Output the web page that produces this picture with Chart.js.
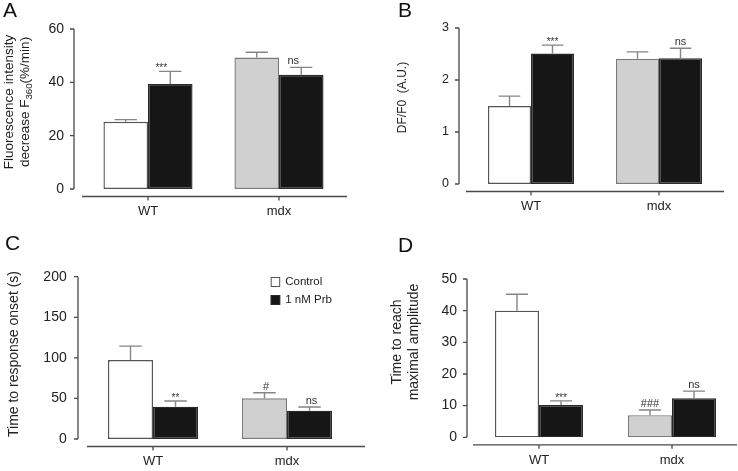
<!DOCTYPE html>
<html>
<head>
<meta charset="utf-8">
<script src="https://cdn.jsdelivr.net/npm/chart.js@4.4.1/dist/chart.umd.min.js"></script>
<style>
  html, body { margin: 0; padding: 0; background: #fff; width: 738px; height: 471px; overflow: hidden; }
  .panel { position: absolute; }
</style>
</head>
<body>
<div class="panel" style="left:0;top:0"><canvas id="chartA" width="369" height="230"></canvas></div>
<div class="panel" style="left:369px;top:0"><canvas id="chartB" width="369" height="230"></canvas></div>
<div class="panel" style="left:0;top:230px"><canvas id="chartC" width="369" height="241"></canvas></div>
<div class="panel" style="left:369px;top:230px"><canvas id="chartD" width="372" height="241"></canvas></div>
<script>
'use strict';

const categories = ['WT', 'mdx'];
const seriesNames = ['Control', '1 nM Prb'];

// A: fluorescence decrease
const fluoControl = [25.2, 49.3];
const fluoControlErr = [0.8, 2.0];
const fluoPrb = [39.4, 42.8];
const fluoPrbErr = [4.7, 2.8];
const fluoTicks = [0, 20, 40, 60];
const fluoMarksControl = ['', ''];
const fluoMarksPrb = ['***', 'ns'];

// B: DF/F0
const ratioControl = [1.5, 2.41];
const ratioControlErr = [0.19, 0.13];
const ratioPrb = [2.51, 2.42];
const ratioPrbErr = [0.16, 0.19];
const ratioTicks = [0, 1, 2, 3];
const ratioMarksControl = ['', ''];
const ratioMarksPrb = ['***', 'ns'];

// C: time to response onset
const onsetControl = [97.3, 50.1];
const onsetControlErr = [17.2, 6.9];
const onsetPrb = [39.8, 34.9];
const onsetPrbErr = [7.0, 4.5];
const onsetTicks = [0, 50, 100, 150, 200];
const onsetMarksControl = ['', '#'];
const onsetMarksPrb = ['**', 'ns'];

// D: time to maximal amplitude
const peakControl = [40.0, 7.0];
const peakControlErr = [5.2, 1.6];
const peakPrb = [10.2, 12.3];
const peakPrbErr = [1.3, 2.3];
const peakTicks = [0, 10, 20, 30, 40, 50];
const peakMarksControl = ['', '###'];
const peakMarksPrb = ['***', 'ns'];

const FONT = "'Liberation Sans', Arial, Helvetica, sans-serif";
const AXIS = '#4a4a4a';
const ERR = '#858585';
const controlFill = ['#ffffff', '#d0d0d0'];
const controlEdge = ['#555555', '#7a7a7a'];
const prbFill = '#161616';
const prbEdge = '#2a2a2a';

// draws axis lines, error bars, significance marks, titles and legend
const decor = {
  id: 'decor',
  afterDatasetsDraw(chart, args, o) {
    const ctx = chart.ctx;
    const y = chart.scales.y;
    ctx.save();
    ctx.strokeStyle = ERR;
    ctx.lineWidth = 1.4;
    chart.data.datasets.forEach((ds, di) => {
      chart.getDatasetMeta(di).data.forEach((bar, i) => {
        const top = y.getPixelForValue(ds.data[i] + ds.err[i]);
        const half = bar.width / 4;
        ctx.beginPath();
        ctx.moveTo(bar.x, bar.y);
        ctx.lineTo(bar.x, top);
        ctx.moveTo(bar.x - half, top);
        ctx.lineTo(bar.x + half, top);
        ctx.stroke();
        const mark = ds.marks[i];
        if (mark) {
          const star = mark.indexOf('*') >= 0;
          ctx.fillStyle = '#333';
          ctx.font = (star ? 10 : 11) + 'px ' + FONT;
          ctx.textAlign = 'center';
          ctx.textBaseline = 'alphabetic';
          const dx = (o.markShift && o.markShift[di] && o.markShift[di][i]) || 0;
          ctx.fillText(mark, bar.x + dx, top - (star ? 0 : 3));
        }
      });
    });
    ctx.restore();
  },
  afterDraw(chart, args, o) {
    const ctx = chart.ctx;
    const area = chart.chartArea;
    const y = chart.scales.y;
    const x = chart.scales.x;
    ctx.save();
    ctx.strokeStyle = AXIS;
    ctx.lineWidth = 1.3;
    // y axis
    const ax = area.left - o.yGap;
    ctx.beginPath();
    ctx.moveTo(ax, area.top);
    ctx.lineTo(ax, area.bottom);
    y.ticks.forEach(t => {
      const py = y.getPixelForValue(t.value);
      ctx.moveTo(ax - 4, py);
      ctx.lineTo(ax, py);
    });
    // x axis
    const ay = area.bottom + 7.5;
    ctx.moveTo(area.left + o.xStart, ay);
    ctx.lineTo(area.right + o.xEnd, ay);
    categories.forEach((c, i) => {
      const px = x.getPixelForValue(i);
      ctx.moveTo(px, ay);
      ctx.lineTo(px, ay + 4);
    });
    ctx.stroke();

    // panel letter
    ctx.fillStyle = '#111';
    ctx.font = '21px ' + FONT;
    ctx.textAlign = 'left';
    ctx.textBaseline = 'alphabetic';
    ctx.fillText(o.letter, o.letterAt[0], o.letterAt[1]);

    // y title (rotated, may hold a subscript)
    ctx.fillStyle = '#222';
    ctx.textBaseline = 'middle';
    o.title.forEach((line, li) => {
      ctx.save();
      ctx.translate(o.titleX[li], o.titleY);
      ctx.rotate(-Math.PI / 2);
      const sizes = line.map(seg => seg[1] ? o.titleSize * 0.72 : o.titleSize);
      let total = 0;
      line.forEach((seg, si) => {
        ctx.font = sizes[si] + 'px ' + FONT;
        total += ctx.measureText(seg[0]).width;
      });
      let cx = -total / 2;
      ctx.textAlign = 'left';
      line.forEach((seg, si) => {
        ctx.font = sizes[si] + 'px ' + FONT;
        ctx.fillText(seg[0], cx, seg[1] ? o.titleSize * 0.3 : 0);
        cx += ctx.measureText(seg[0]).width;
      });
      ctx.restore();
    });

    // legend
    if (o.legend) {
      const L = o.legend;
      ctx.font = '11.5px ' + FONT;
      ctx.textAlign = 'left';
      ctx.textBaseline = 'middle';
      chart.data.datasets.forEach((ds, di) => {
        const by = L.y + di * L.step;
        ctx.fillStyle = di === 0 ? '#ffffff' : prbFill;
        ctx.fillRect(L.x, by - 5, 9.5, 10);
        ctx.strokeStyle = di === 0 ? '#555' : prbEdge;
        ctx.lineWidth = 1;
        ctx.strokeRect(L.x + 0.5, by - 4.5, 8.5, 9);
        ctx.fillStyle = '#222';
        ctx.fillText(seriesNames[di], L.x + 14.5, by);
      });
    }
    ctx.restore();
  }
};

function makePanel(id, p) {
  return new Chart(document.getElementById(id), {
    type: 'bar',
    data: {
      labels: categories,
      datasets: [{
        label: seriesNames[0],
        data: p.control,
        err: p.controlErr,
        marks: p.controlMarks,
        backgroundColor: controlFill,
        borderColor: controlEdge,
        borderWidth: 1.4,
        borderSkipped: false,
        categoryPercentage: p.group,
        barPercentage: 1
      }, {
        label: seriesNames[1],
        data: p.prb,
        err: p.prbErr,
        marks: p.prbMarks,
        backgroundColor: prbFill,
        borderColor: prbEdge,
        borderWidth: 1.4,
        borderSkipped: false,
        categoryPercentage: p.group,
        barPercentage: 1
      }]
    },
    options: {
      responsive: false,
      animation: false,
      events: [],
      layout: { padding: { left: 0, top: p.top, right: p.right, bottom: 0 } },
      plugins: {
        legend: { display: false },
        tooltip: { enabled: false },
        decor: p.decor
      },
      scales: {
        x: {
          grid: { display: false, drawTicks: false },
          border: { display: false },
          ticks: { padding: 15, color: '#222', font: { family: FONT, size: 13 } },
          afterFit(s) { s.height = p.xHeight; }
        },
        y: {
          min: p.ticks[0],
          max: p.ticks[p.ticks.length - 1],
          grid: { display: false, drawTicks: false },
          border: { display: false },
          ticks: {
            stepSize: p.ticks[1] - p.ticks[0],
            padding: p.yPad,
            color: '#222',
            font: { family: FONT, size: p.tickSize }
          },
          afterFit(s) { s.width = p.yWidth; }
        }
      }
    },
    plugins: [decor]
  });
}

makePanel('chartA', {
  control: fluoControl, controlErr: fluoControlErr, controlMarks: fluoMarksControl,
  prb: fluoPrb, prbErr: fluoPrbErr, prbMarks: fluoMarksPrb, ticks: fluoTicks,
  group: 0.68, top: 29, right: 24.5, xHeight: 41, yWidth: 82.5, yPad: 18.5, tickSize: 14,
  decor: {
    yGap: 8.5, xStart: -0.5, xEnd: 2.5, letter: 'A', letterAt: [3, 17],
    title: [[['Fluorescence intensity']], [['decrease F'], ['360', true], ['(%/min)']]],
    titleX: [9, 25.5], titleY: 102, titleSize: 13.5,
    markShift: [[0, 0], [-9, -8]]
  }
});

makePanel('chartB', {
  control: ratioControl, controlErr: ratioControlErr, controlMarks: ratioMarksControl,
  prb: ratioPrb, prbErr: ratioPrbErr, prbMarks: ratioMarksPrb, ticks: ratioTicks,
  group: 0.672, top: 28, right: 15, xHeight: 46, yWidth: 98, yPad: 18, tickSize: 12.5,
  decor: {
    yGap: 8, xStart: -1, xEnd: 1, letter: 'B', letterAt: [29, 17],
    title: [[['DF/F0  (A.U.)']]],
    titleX: [34], titleY: 97.5, titleSize: 12
  }
});

makePanel('chartC', {
  control: onsetControl, controlErr: onsetControlErr, controlMarks: onsetMarksControl,
  prb: onsetPrb, prbErr: onsetPrbErr, prbMarks: onsetMarksPrb, ticks: onsetTicks,
  group: 0.672, top: 46.7, right: 15, xHeight: 32, yWidth: 86, yPad: 19.3, tickSize: 14,
  decor: {
    yGap: 8, xStart: 1, xEnd: 11, letter: 'C', letterAt: [5, 20],
    title: [[['Time to response onset (s)']]],
    titleX: [14], titleY: 124, titleSize: 14,
    markShift: [[0, 1.5], [0, 2]],
    legend: { x: 270.7, y: 52, step: 18 }
  }
});

makePanel('chartD', {
  control: peakControl, controlErr: peakControlErr, controlMarks: peakMarksControl,
  prb: peakPrb, prbErr: peakPrbErr, prbMarks: peakMarksPrb, ticks: peakTicks,
  group: 0.662, top: 49, right: 2.5, xHeight: 33.7, yWidth: 103.5, yPad: 15.5, tickSize: 14,
  decor: {
    yGap: 5.5, xStart: 0.5, xEnd: -1.5, letter: 'D', letterAt: [29, 22],
    title: [[['Time to reach']], [['maximal amplitude']]],
    titleX: [28, 45.5], titleY: 112, titleSize: 14
  }
});
</script>
</body>
</html>
